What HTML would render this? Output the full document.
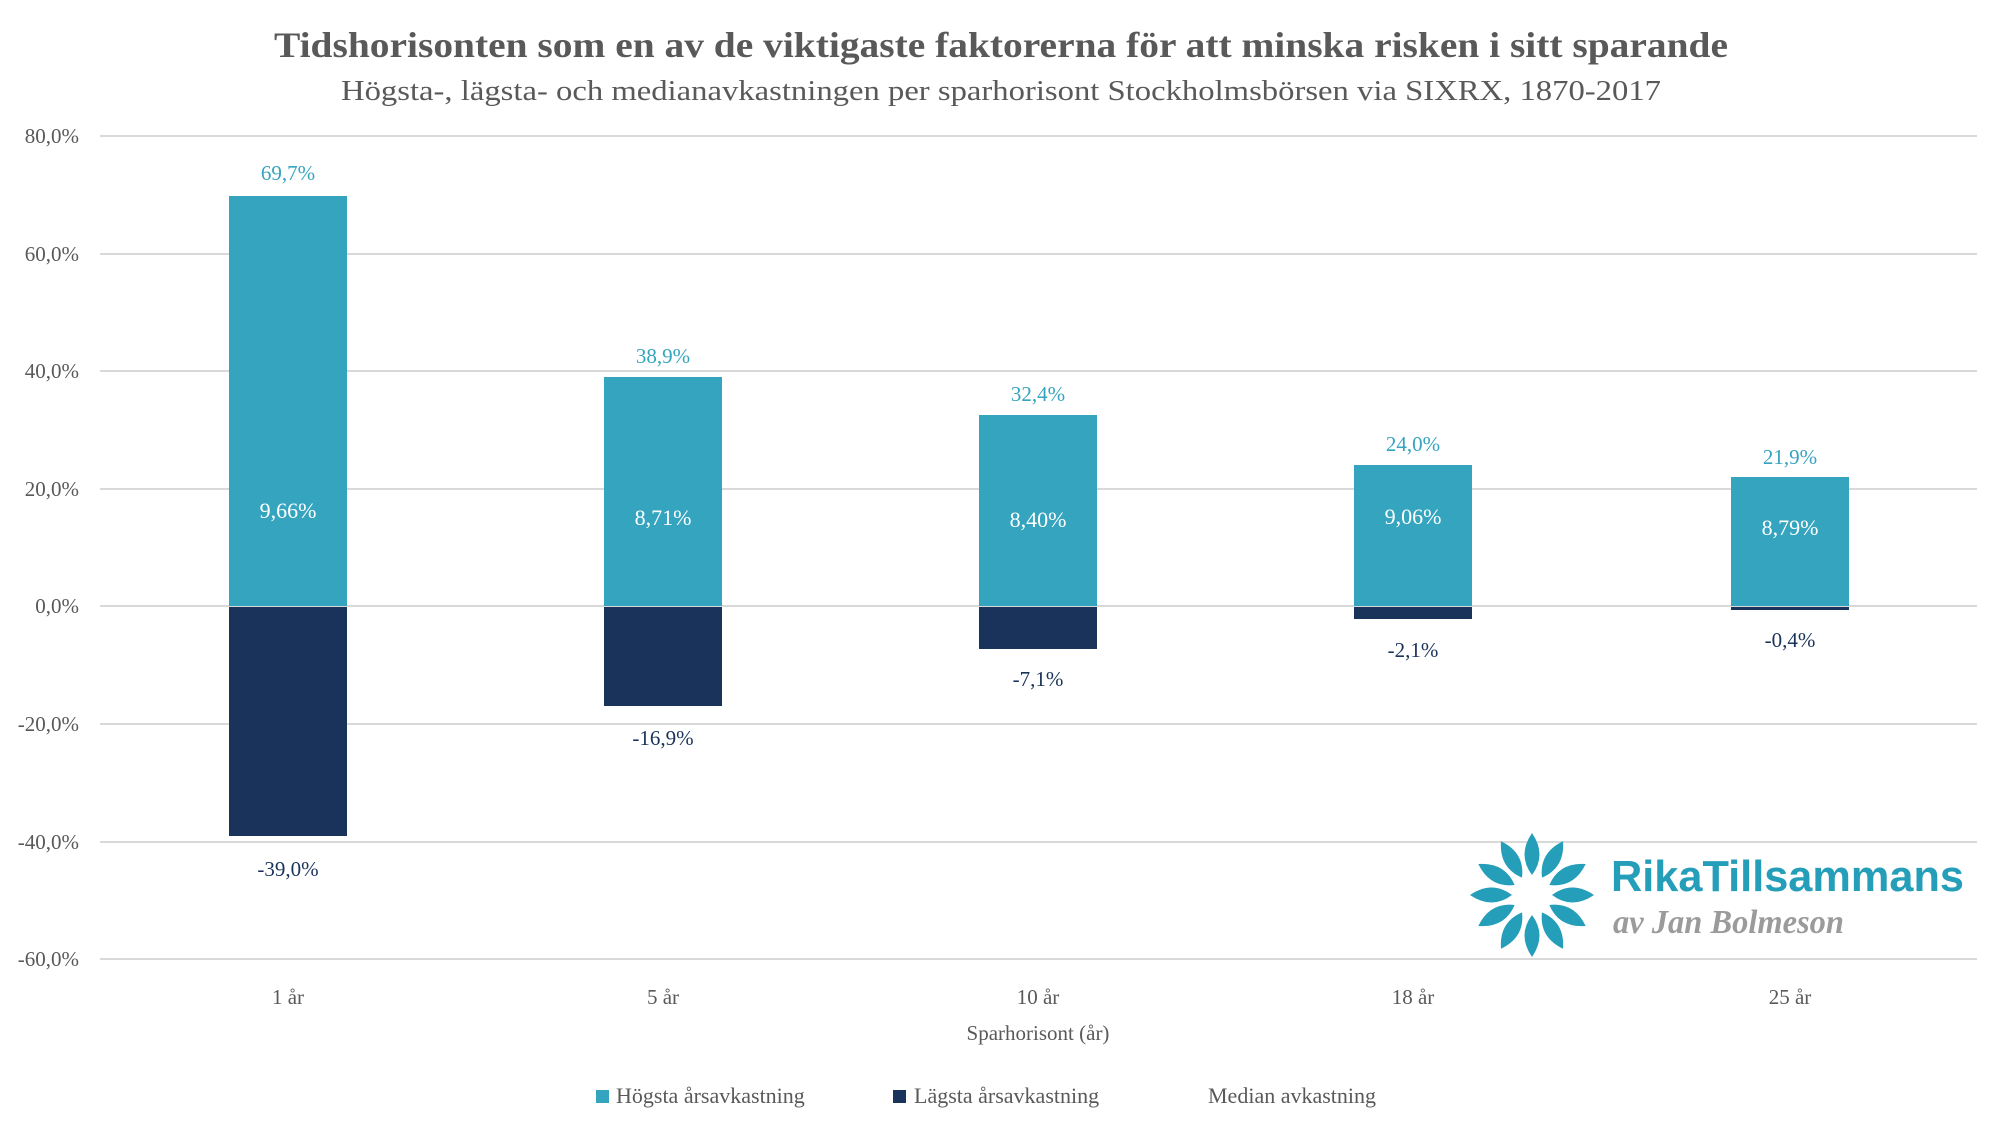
<!DOCTYPE html>
<html><head><meta charset="utf-8"><style>
html,body{margin:0;padding:0;background:#fff;}
svg{display:block;font-family:"Liberation Serif","DejaVu Serif",serif;}
</style></head><body>
<svg width="2000" height="1125" viewBox="0 0 2000 1125" xmlns="http://www.w3.org/2000/svg">
<rect width="2000" height="1125" fill="#fff"/>
<text x="1001" y="57" text-anchor="middle" font-size="36" font-weight="bold" fill="#595959" textLength="1454" lengthAdjust="spacingAndGlyphs">Tidshorisonten som en av de viktigaste faktorerna för att minska risken i sitt sparande</text>
<text x="1001" y="100" text-anchor="middle" font-size="28" fill="#595959" textLength="1320" lengthAdjust="spacingAndGlyphs">Högsta-, lägsta- och medianavkastningen per sparhorisont Stockholmsbörsen via SIXRX, 1870-2017</text>
<g stroke="#d9d9d9" stroke-width="2">
<line x1="100" x2="1977" y1="136" y2="136"/>
<line x1="100" x2="1977" y1="254" y2="254"/>
<line x1="100" x2="1977" y1="371" y2="371"/>
<line x1="100" x2="1977" y1="489" y2="489"/>
<line x1="100" x2="1977" y1="606" y2="606"/>
<line x1="100" x2="1977" y1="724" y2="724"/>
<line x1="100" x2="1977" y1="842" y2="842"/>
<line x1="100" x2="1977" y1="959" y2="959"/>
</g>
<g font-size="21" fill="#595959" text-anchor="end">
<text x="79" y="143">80,0%</text>
<text x="79" y="261">60,0%</text>
<text x="79" y="378">40,0%</text>
<text x="79" y="496">20,0%</text>
<text x="79" y="613">0,0%</text>
<text x="79" y="731">-20,0%</text>
<text x="79" y="849">-40,0%</text>
<text x="79" y="966">-60,0%</text>
</g>
<g fill="#35a4bf">
<rect x="229" y="196" width="118" height="410"/>
<rect x="604" y="377" width="118" height="229"/>
<rect x="979" y="415" width="118" height="191"/>
<rect x="1354" y="465" width="118" height="141"/>
<rect x="1731" y="477" width="118" height="129"/>
</g>
<g fill="#1a335a">
<rect x="229" y="607" width="118" height="229"/>
<rect x="604" y="607" width="118" height="99"/>
<rect x="979" y="607" width="118" height="42"/>
<rect x="1354" y="607" width="118" height="12"/>
<rect x="1731" y="607" width="118" height="3"/>
</g>
<g font-size="21" fill="#35a4bf" text-anchor="middle">
<text x="288" y="180">69,7%</text>
<text x="663" y="363">38,9%</text>
<text x="1038" y="401">32,4%</text>
<text x="1413" y="451">24,0%</text>
<text x="1790" y="464">21,9%</text>
</g>
<g font-size="22" fill="#fff" text-anchor="middle">
<text x="288" y="518">9,66%</text>
<text x="663" y="525">8,71%</text>
<text x="1038" y="527">8,40%</text>
<text x="1413" y="524">9,06%</text>
<text x="1790" y="535">8,79%</text>
</g>
<g font-size="21" fill="#1a335a" text-anchor="middle">
<text x="288" y="876">-39,0%</text>
<text x="663" y="745">-16,9%</text>
<text x="1038" y="686">-7,1%</text>
<text x="1413" y="657">-2,1%</text>
<text x="1790" y="647">-0,4%</text>
</g>
<g font-size="21" fill="#595959" text-anchor="middle">
<text x="288" y="1004">1 år</text>
<text x="663" y="1004">5 år</text>
<text x="1038" y="1004">10 år</text>
<text x="1413" y="1004">18 år</text>
<text x="1790" y="1004">25 år</text>
<text x="1038" y="1040">Sparhorisont (år)</text>
</g>
<g font-size="22" fill="#595959">
<rect x="596" y="1090" width="13" height="13" fill="#35a4bf"/>
<text x="616" y="1103">Högsta årsavkastning</text>
<rect x="893" y="1090" width="13" height="13" fill="#1a335a"/>
<text x="914" y="1103">Lägsta årsavkastning</text>
<text x="1208" y="1103">Median avkastning</text>
</g>
<g transform="translate(1532,895)" fill="#259eb9">
<path id="p" d="M0,-20 Q15,-40 0,-62 Q-15,-40 0,-20Z"/>
<use href="#p" transform="rotate(30)"/>
<use href="#p" transform="rotate(60)"/>
<use href="#p" transform="rotate(90)"/>
<use href="#p" transform="rotate(120)"/>
<use href="#p" transform="rotate(150)"/>
<use href="#p" transform="rotate(180)"/>
<use href="#p" transform="rotate(210)"/>
<use href="#p" transform="rotate(240)"/>
<use href="#p" transform="rotate(270)"/>
<use href="#p" transform="rotate(300)"/>
<use href="#p" transform="rotate(330)"/>
</g>
<text x="1611" y="891" font-family="Liberation Sans, sans-serif" font-weight="bold" font-size="44" fill="#259eb9" textLength="353" lengthAdjust="spacingAndGlyphs">RikaTillsammans</text>
<text x="1613" y="933" font-size="34" font-style="italic" font-weight="bold" fill="#9b9b9b" textLength="231" lengthAdjust="spacingAndGlyphs">av Jan Bolmeson</text>
</svg>
</body></html>
